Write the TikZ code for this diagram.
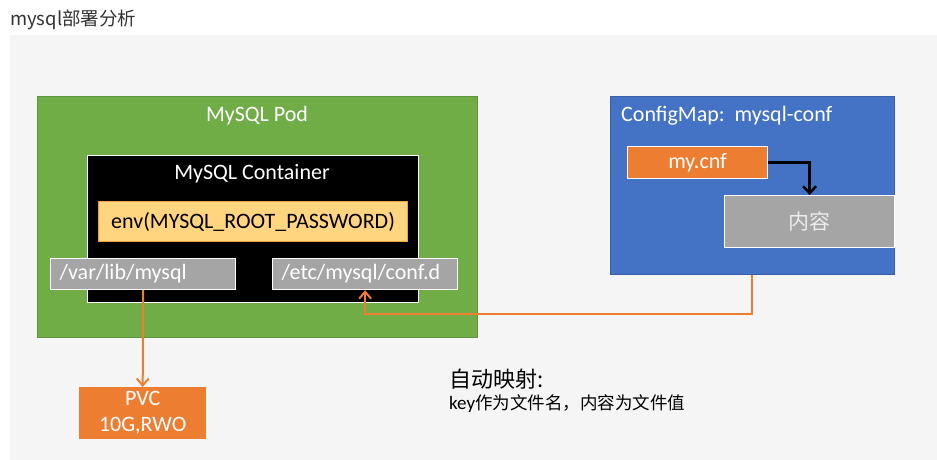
\documentclass[tikz,border=0pt]{standalone}
\usepackage{fontspec}
\setmainfont{Carlito}
\newfontfamily\cjk{Noto Sans CJK SC}
\usetikzlibrary{arrows.meta}
\definecolor{bgc}{HTML}{F5F5F5}
\definecolor{titlec}{HTML}{333333}
\definecolor{podgreen}{HTML}{70AD47}
\definecolor{cmblue}{HTML}{4472C4}
\definecolor{orangec}{HTML}{ED7D31}
\definecolor{grayc}{HTML}{A5A5A5}
\definecolor{envfill}{HTML}{FFD57F}
\definecolor{envdraw}{HTML}{F2A23A}
\definecolor{zhgray}{HTML}{ECECEC}
\tikzset{
  box/.style={rectangle, inner sep=0pt, anchor=north west},
  wbox/.style={box, draw=white, line width=1.2pt},
  lab/.style={inner sep=0pt, text=white, font=\fontsize{22}{26}\selectfont},
  pathbox/.style={rectangle, anchor=north west, fill=grayc, draw=white, line width=1.2pt,
    text=white, font=\fontsize{22}{26}\selectfont, text width=167pt, inner xsep=9pt,
    inner ysep=0pt, minimum height=31pt, align=left},
  orangearrow/.style={draw=orangec, line width=2pt, -{Straight Barb[length=7pt,width=12pt,line width=2pt]}},
  blackarrow/.style={draw=black, line width=2.4pt, -{Straight Barb[length=7pt,width=13pt,line width=2.4pt]}},
}
\begin{document}
\begin{tikzpicture}[x=1pt,y=-1pt]
\useasboundingbox (0,0) rectangle (937,460);
\fill[white] (0,0) rectangle (937,460);
\fill[bgc] (10,35) rectangle (937,460);
\node[anchor=west, inner sep=0pt, text=titlec, font=\cjk\fontsize{18.5}{22}\selectfont] (title) at (10,20) {mysql部署分析};
% Pod
\node[box, fill=podgreen, draw=podgreen!85!black, line width=0.6pt, minimum width=440pt, minimum height=241pt] (pod) at (37,96) {};
\node[lab] (podlab) at (257,116) {MySQL Pod};
% Container
\node[wbox, fill=black, minimum width=331pt, minimum height=147pt] (cont) at (87,155) {};
\node[lab] (contlab) at (252,174) {MySQL Container};
\node[box, fill=envfill, draw=envdraw, line width=1.2pt, minimum width=309pt, minimum height=40pt,
  font=\fontsize{22}{26}\selectfont] (env) at (98,201) {env(MYSQL\_ROOT\_PASSWORD)};
\node[pathbox] (varlib) at (50,258) {/var/lib/mysql};
\node[pathbox] (etc) at (272,258) {/etc/mysql/conf.d};
% PVC
\node[box, fill=orangec, minimum width=127pt, minimum height=52pt, text=white, align=center,
  font=\fontsize{22}{26}\selectfont] (pvc) at (79,387) {PVC\\10G,RWO};
% ConfigMap
\node[box, fill=cmblue, draw=cmblue!85!black, line width=0.6pt, minimum width=284pt, minimum height=178pt] (cm) at (610,96) {};
\node[lab, anchor=west] (cmlab) at (621,116) {ConfigMap:\ \ mysql-conf};
\node[wbox, fill=orangec, minimum width=140pt, minimum height=32pt, text=white,
  font=\fontsize{22}{26}\selectfont] (mycnf) at (627,146) {my.cnf};
\node[wbox, fill=grayc, minimum width=170pt, minimum height=52pt, text=zhgray,
  font=\cjk\fontsize{21}{24}\selectfont] (content) at (724,195) {内容};
% Connectors
\draw[orangearrow] (varlib.south) -- (pvc.north);
\draw[orangearrow] (cm.south) -- ++(0,39) -| (etc.south);
\draw[blackarrow] (mycnf.east) -| (content.north);
% Notes
\node[anchor=west, inner sep=0pt, font=\cjk\fontsize{22}{26}\selectfont] (note1) at (449,379) {自动映射:};
\node[anchor=west, inner sep=0pt, font=\fontsize{19}{22}\selectfont] (note2) at (449,404) {key{\cjk\fontsize{17.5}{22}\selectfont 作为文件名，内容为文件值}};
\end{tikzpicture}
\end{document}
